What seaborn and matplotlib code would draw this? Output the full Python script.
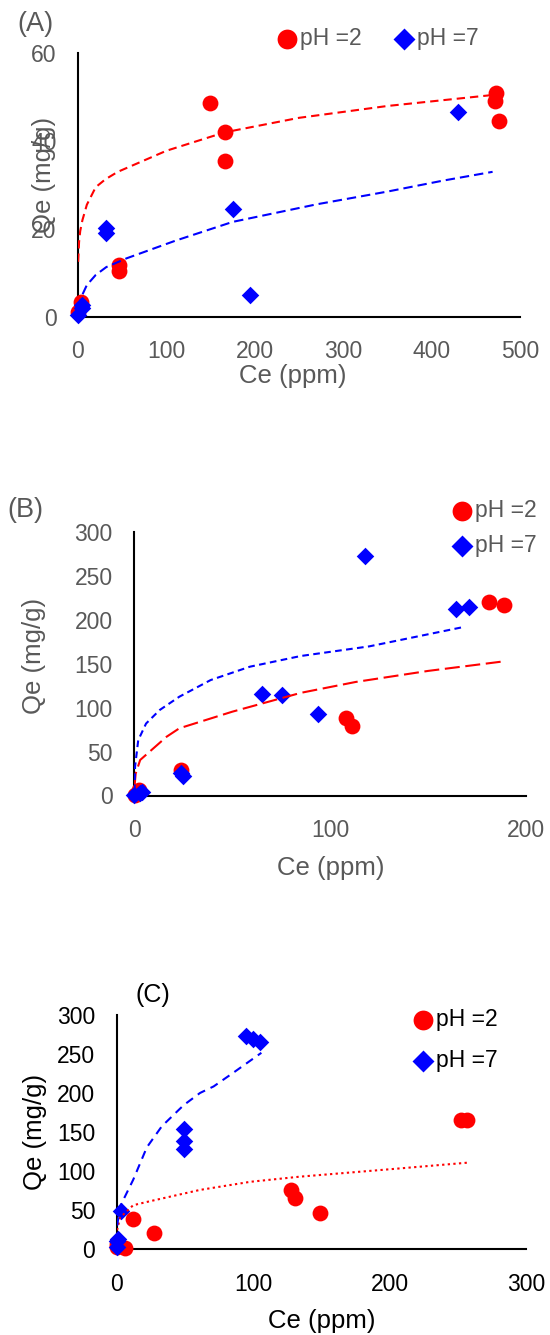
import matplotlib
matplotlib.use("Agg")
import matplotlib.pyplot as plt
import seaborn as sns

# ---------------- Panel A ----------------
a_ce_ph2 = [0.5, 3.2, 46.8, 46.8, 148.8, 165.9, 165.9, 472.6, 471.4, 476.6]
a_qe_ph2 = [1.0, 3.4, 11.8, 10.5, 48.6, 42.1, 35.5, 50.9, 49.2, 44.6]
a_ce_ph7 = [0.0, 4.0, 5.0, 32.1, 32.1, 175.8, 194.8, 429.8]
a_qe_ph7 = [0.3, 2.0, 2.6, 20.3, 19.1, 24.6, 4.9, 46.7]
a_fit_ce_ph2 = [0.2, 1.2, 2.5, 5, 10, 20, 31, 45, 100, 166, 250, 350, 469]
a_fit_qe_ph2 = [12.5, 17.0, 19.5, 22.0, 25.5, 29.5, 31.3, 33.0, 37.8, 42.0, 45.3, 48.0, 50.5]
a_fit_ce_ph7 = [0.4, 4, 10, 20, 32, 55, 110, 175, 270, 350, 413, 469]
a_fit_qe_ph7 = [2.0, 4.6, 7.2, 9.5, 11.3, 13.3, 17.3, 21.6, 25.6, 28.5, 31.0, 33.0]
a_xticks = [0, 100, 200, 300, 400, 500]
a_yticks = [0, 20, 40, 60]

# ---------------- Panel B ----------------
b_ce_ph2 = [0.3, 2.5, 23.6, 108.1, 111.4, 181.2, 188.7]
b_qe_ph2 = [1.0, 6.1, 29.0, 88.9, 79.4, 220.6, 216.8]
b_ce_ph7 = [0.0, 3.0, 4.0, 23.6, 24.9, 65.4, 75.6, 94.0, 117.6, 164.2, 170.8]
b_qe_ph7 = [0.5, 2.3, 4.0, 26.0, 22.1, 116.0, 114.9, 93.1, 272.5, 212.2, 214.9]
b_fit_ce_ph7 = [0.1, 0.4, 2, 6, 13, 23, 39, 59, 85, 120, 168]
b_fit_qe_ph7 = [5, 33, 63, 82, 97.5, 112.6, 131.6, 146.8, 159, 170, 192]
b_fit_ce_ph2 = [0.1, 0.7, 3, 16.5, 23, 50, 85, 113, 150, 189]
b_fit_qe_ph2 = [10, 25, 40.5, 67, 76.6, 95.5, 117, 129.4, 142, 153]
b_xticks = [0, 100, 200]
b_yticks = [0, 50, 100, 150, 200, 250, 300]

# ---------------- Panel C ----------------
c_ce_ph2 = [0.0, 0.5, 6.0, 12.1, 27.5, 128.0, 130.5, 149.0, 252.0, 257.0]
c_qe_ph2 = [2.0, 6.0, 1.0, 38.0, 21.0, 76.0, 65.0, 46.0, 165.0, 165.0]
c_ce_ph7 = [0.0, 0.0, 1.0, 3.0, 49.5, 49.5, 49.5, 95.0, 100.0, 105.0]
c_qe_ph7 = [3.0, 10.0, 13.0, 48.0, 153.0, 138.0, 128.0, 272.0, 268.5, 265.0]
c_fit_ce_ph7 = [0.3, 2.3, 12, 22, 33, 49, 61, 71, 85, 106]
c_fit_qe_ph7 = [30, 54, 88.5, 130, 157, 184, 199.6, 208, 225, 251]
c_fit_ce_ph2 = [0.2, 2.3, 12, 24, 61, 98, 134, 200, 257.6]
c_fit_qe_ph2 = [24, 40, 56, 61, 75.6, 86, 92.5, 102, 110.5]
c_xticks = [0, 100, 200, 300]
c_yticks = [0, 50, 100, 150, 200, 250, 300]

labels = ["pH =2", "pH =7"]
x_label = "Ce (ppm)"
y_label = "Qe (mg/g)"

sns.set_theme(style="white")
plt.rcParams['font.family'] = ['Liberation Sans', 'DejaVu Sans']

RED = '#FF0000'
BLUE = '#0000FF'
GRAY = '#595959'
W, H = 550, 1335
TICK_FS = 16.5
LABEL_FS = 18.5
LEG_FS = 16.5

fig = plt.figure(figsize=(5.5, 13.35), dpi=100)


def rect(l, r, t, b):
    return [l / W, 1 - b / H, (r - l) / W, (b - t) / H]


def style_axes(ax, xlim, ylim, xticks, yticks, color, xl_xy, yl_xy):
    ax.set_xlim(*xlim)
    ax.set_ylim(*ylim)
    ax.set_xticks(xticks)
    ax.set_yticks(yticks)
    ax.grid(False)
    ax.set_facecolor('none')
    for s in ['top', 'right']:
        ax.spines[s].set_visible(False)
    for s in ['left', 'bottom']:
        ax.spines[s].set_visible(True)
        ax.spines[s].set_color('black')
        ax.spines[s].set_linewidth(1.5)
        ax.spines[s].set_zorder(2.5)
    ax.tick_params(axis='x', length=0, pad=17.0, labelsize=TICK_FS, labelcolor=color)
    ax.tick_params(axis='y', length=0, pad=15.5, labelsize=TICK_FS, labelcolor=color)
    ax.set_xlabel(x_label, fontsize=LABEL_FS, color=color)
    ax.set_ylabel(y_label, fontsize=LABEL_FS, color=color)
    ax.xaxis.set_label_coords(*xl_xy)
    ax.yaxis.set_label_coords(*yl_xy)


def draw(ax, ce2, qe2, ce7, qe7, fce2, fqe2, fce7, fqe7, ls2, ls7):
    sns.scatterplot(x=ce2, y=qe2, ax=ax, color=RED, marker='o', s=130,
                    linewidth=0, label=labels[0], clip_on=False, zorder=3)
    sns.scatterplot(x=ce7, y=qe7, ax=ax, color=BLUE, marker='D', s=80,
                    linewidth=0, label=labels[1], clip_on=False, zorder=3)
    sns.lineplot(x=fce2, y=fqe2, ax=ax, color=RED, linewidth=1.5,
                 linestyle=ls2, sort=False, estimator=None, zorder=4)
    sns.lineplot(x=fce7, y=fqe7, ax=ax, color=BLUE, linewidth=1.5,
                 linestyle=ls7, sort=False, estimator=None, zorder=4)


def legend(ax, cx, cy, ncol, color, spacing):
    h, l = ax.get_legend_handles_labels()
    pairs = [(hh, ll) for hh, ll in zip(h, l) if ll in labels]
    ax.legend([p[0] for p in pairs], [p[1] for p in pairs], loc='center',
              bbox_to_anchor=(cx / W, 1 - cy / H), bbox_transform=fig.transFigure,
              ncol=ncol, frameon=False, fontsize=LEG_FS, labelcolor=color,
              markerscale=1.25, handlelength=0.9, handletextpad=0.12,
              columnspacing=1.4, labelspacing=spacing, borderpad=0, borderaxespad=0)


# Panel A
axA = fig.add_axes(rect(78, 520, 53.3, 316.7))
draw(axA, a_ce_ph2, a_qe_ph2, a_ce_ph7, a_qe_ph7,
     a_fit_ce_ph2, a_fit_qe_ph2, a_fit_ce_ph7, a_fit_qe_ph7,
     (0, (4, 2.4)), (0, (4.5, 2.4)))
style_axes(axA, (0, 500), (0, 60), a_xticks, a_yticks, GRAY, (0.4855, -0.178), (-0.05, 0.538))
legend(axA, 378, 39, 2, GRAY, 0.5)
fig.text(35 / W, 1 - 24 / H, "(A)", ha='center', va='center', fontsize=19.5, color=GRAY)

# Panel B
axB = fig.add_axes(rect(134.3, 526, 532.3, 795.5))
draw(axB, b_ce_ph2, b_qe_ph2, b_ce_ph7, b_qe_ph7,
     b_fit_ce_ph2, b_fit_qe_ph2, b_fit_ce_ph7, b_fit_qe_ph7,
     (0, (7.2, 2.7)), (0, (3.2, 2.1)))
style_axes(axB, (0, 200), (0, 300), b_xticks, b_yticks, GRAY, (0.501, -0.228), (-0.2265, 0.531))
legend(axB, 494.5, 528, 1, GRAY, 0.55)
fig.text(25.4 / W, 1 - 510 / H, "(B)", ha='center', va='center', fontsize=19.5, color=GRAY)

# Panel C
axC = fig.add_axes(rect(116.8, 526, 1014.5, 1249))
draw(axC, c_ce_ph2, c_qe_ph2, c_ce_ph7, c_qe_ph7,
     c_fit_ce_ph2, c_fit_qe_ph2, c_fit_ce_ph7, c_fit_qe_ph7,
     (0, (1.1, 1.6)), (0, (4, 2.9)))
style_axes(axC, (0, 300), (0, 300), c_xticks, c_yticks, 'black', (0.501, -0.255), (-0.17, 0.5))
legend(axC, 455.5, 1040, 1, 'black', 0.75)
fig.text(152.6 / W, 1 - 995 / H, "(C)", ha='center', va='center', fontsize=18, color='black')

fig.savefig('out.png', dpi=100)
